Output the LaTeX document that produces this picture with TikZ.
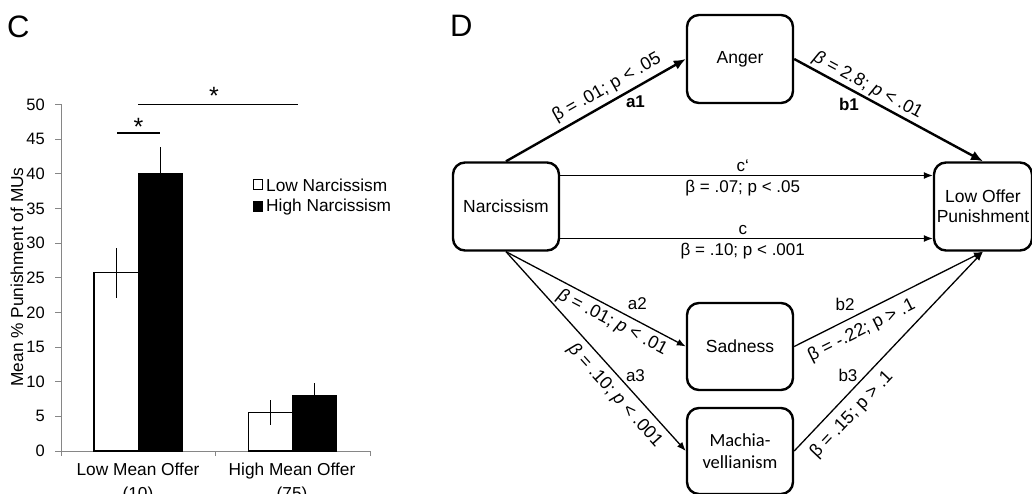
\documentclass[tikz,border=0pt]{standalone}
\usepackage{fontspec}
\setmainfont{Liberation Sans}
\newfontfamily\calfont{Carlito}
\usetikzlibrary{arrows.meta}
\definecolor{axisgray}{HTML}{868686}
\begin{document}
\begin{tikzpicture}[x=1pt,y=-1pt,
  box/.style={draw, line width=2.4pt, rounded corners=12pt, minimum width=106pt,
    minimum height=88pt, inner sep=0pt, align=center, font=\fontsize{17.5}{20.5}\selectfont},
  thickarr/.style={line width=2.4pt, -{Latex[length=12pt,width=10pt]}},
  thinarr/.style={line width=1.3pt, -{Latex[length=9pt,width=7pt]}},
  elab/.style={font=\fontsize{17}{20}\selectfont, inner sep=2pt},
  rlab/.style={font=\fontsize{18}{21}\selectfont, inner sep=2pt, sloped},
  coef/.style={font=\fontsize{17}{20}\selectfont\bfseries, inner sep=2pt},
  ticklab/.style={font=\fontsize{16.5}{19}\selectfont, inner sep=2pt},
  axlab/.style={font=\fontsize{17.3}{20.5}\selectfont, inner sep=2pt},
  bar/.style={draw=black, line width=1.2pt},
  errbar/.style={line width=1.2pt},
  panel/.style={font=\fontsize{31}{34}\selectfont, inner sep=0pt}
]
\useasboundingbox (0,0) rectangle (1032,494);

% ---------- Panel C ----------
\node[panel, anchor=base west] (labC) at (7,38) {C};

\begin{scope}[shift={(0pt,-451pt)}, y=6.93pt]
  \draw[axisgray, line width=1pt] (61,50) -- (61,0) -- (370,0);
  \foreach \v in {0,5,...,50} {
    \draw[axisgray, line width=1pt] (55,\v) -- (61,\v);
    \node[ticklab, anchor=east] at (47,\v) {\v};
  }
  \foreach \xx in {61,215,370}
    \draw[axisgray, line width=1pt] (\xx,0) -- ++(0pt,-5pt);
  % bars
  \draw[bar, fill=white] (94,0) rectangle (138.3,25.8);
  \draw[bar, fill=black] (138.3,0) rectangle (182.7,40.1);
  \draw[bar, fill=white] (248.3,0) rectangle (292.3,5.6);
  \draw[bar, fill=black] (292.3,0) rectangle (336.7,8.0);
  % error bars
  \draw[errbar] (116.2,22.1) -- (116.2,29.3);
  \draw[errbar] (160.5,36.4) -- (160.5,43.8);
  \draw[errbar] (270.3,3.8) -- (270.3,7.4);
  \draw[errbar] (314.5,6.2) -- (314.5,9.8);
\end{scope}

% significance
\draw[line width=1.2pt] (117,133) -- (160,133);
\node[font=\fontsize{25}{27}\selectfont, inner sep=0pt] (st1) at (138.5,127) {*};
\draw[line width=1.2pt] (138.3,104.3) -- (298,104.3);
\node[font=\fontsize{25}{27}\selectfont, inner sep=0pt] (st2) at (214,96) {*};

% legend
\draw[line width=1pt, fill=white] (253,180) rectangle (262,190);
\node[axlab, anchor=west, inner sep=0pt] (lg1) at (266,185) {Low Narcissism};
\draw[line width=1pt, fill=black] (253,202) rectangle (262,212);
\node[axlab, anchor=west, inner sep=0pt] (lg2) at (266,207) {High Narcissism};

% axis labels
\node[axlab, rotate=90] (ylab) at (17,277) {Mean \% Punishment of MUs};
\node[font=\fontsize{17.3}{23.5}\selectfont, inner sep=2pt, align=center, anchor=north] (xl1) at (138,461) {Low Mean Offer\\(10)};
\node[font=\fontsize{17.3}{23.5}\selectfont, inner sep=2pt, align=center, anchor=north] (xl2) at (292,461) {High Mean Offer\\(75)};

% ---------- Panel D ----------
\node[panel, anchor=base west] (labD) at (450,37) {D};

\node[box] (anger) at (740,59) {Anger};
\node[box] (narc) at (506,206.5) {Narcissism};
\node[box, minimum width=98pt] (lop) at (983,206.5) {Low Offer\\Punishment};
\node[box, minimum height=87pt] (sad) at (740,346.5) {Sadness};
\node[box, minimum height=86pt, font=\calfont\fontsize{18.5}{22}\selectfont] (mach) at (740,451) {Machia-\\vellianism};

% a1
\draw[thickarr] (narc.north) -- (anger.west)
  node[rlab, pos=0.60, above=2.5pt] {β = .01; p < .05}
  node[coef, pos=0.72, yshift=-14pt] {a1};
% b1
\draw[thickarr] (anger.east) -- (lop.north)
  node[rlab, pos=0.36, above=0pt] {\textit{β} = 2.8; \textit{p} < .01}
  node[coef, pos=0.29, yshift=-16pt] {b1};
% c'
\draw[thinarr] ([yshift=31pt]narc.east) -- ([yshift=31pt]lop.west)
  node[elab, pos=0.49, above=1pt] {c‘}
  node[elab, pos=0.49, below=2.5pt] {β = .07; p < .05};
% c
\draw[thinarr] ([yshift=-32pt]narc.east) -- ([yshift=-32pt]lop.west)
  node[elab, pos=0.49, above=1pt] {c}
  node[elab, pos=0.49, below=2pt] {β = .10; p < .001};
% a2
\draw[thinarr] (narc.south) -- (sad.west)
  node[rlab, pos=0.625, below=2pt] {\textit{β} = .01; \textit{p} < .01}
  node[elab, pos=0.73, yshift=17pt] {a2};
% a3
\draw[thinarr] (narc.south) -- (mach.west)
  node[rlab, pos=0.67, below=4.5pt] {\textit{β} = .10; \textit{p} < .001}
  node[elab, pos=0.62, xshift=18pt] {a3};
% b2
\draw[thinarr] (sad.east) -- (lop.south)
  node[rlab, pos=0.32, below=5pt] {β = -.22; p > .1}
  node[elab, pos=0.27, yshift=16pt] {b2};
% b3
\draw[thinarr] (mach.east) -- (lop.south)
  node[rlab, pos=0.24, below=6pt] {β = .15; p > .1}
  node[elab, pos=0.38, xshift=-18pt] {b3};
\end{tikzpicture}
\end{document}
